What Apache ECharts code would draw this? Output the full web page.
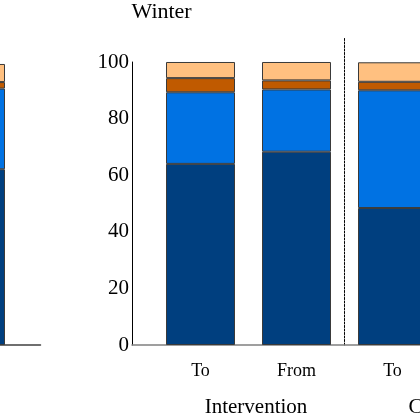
<!DOCTYPE html>
<html>
<head>
<meta charset="utf-8">
<script src="https://cdn.jsdelivr.net/npm/echarts@6/dist/echarts.min.js"></script>
<style>
  html, body { margin: 0; padding: 0; background: #fff; }
  #chart { width: 420px; height: 420px; }
</style>
</head>
<body>
<div id="chart"></div>
<script>
// 数据
const categories = ['To', 'From', 'To', 'From'];
const groups = ['Intervention', 'Control'];
const darkBlue = [64.0, 68.3, 48.4, '-'];
const midBlue = [25.3, 22.0, 41.6, '-'];
const brown = [5.0, 3.2, 3.0, '-'];
const peach = [5.7, 6.5, 6.9, '-'];
// 左边被裁掉的面板（只剩一根柱子）
const leftCategories = ['From'];
const leftDarkBlue = [62.1];
const leftMidBlue = [28.5];
const leftBrown = [2.3];
const leftPeach = [6.4];

const FONT = '"Liberation Serif", "Times New Roman", serif';
const colors = ['#003F7F', '#0072E3', '#C05A00', '#FFC080'];
const mainLayers = [darkBlue, midBlue, brown, peach];
const leftLayers = [leftDarkBlue, leftMidBlue, leftBrown, leftPeach];

const chart = echarts.init(document.getElementById('chart'));

const series = [];
mainLayers.forEach(function (data, i) {
  series.push({
    type: 'bar', stack: 'main', xAxisIndex: 0, yAxisIndex: 0,
    data: data, barWidth: 69, color: colors[i],
    itemStyle: { borderColor: '#3a3a3a', borderWidth: 1 },
    silent: true
  });
});
leftLayers.forEach(function (data, i) {
  series.push({
    type: 'bar', stack: 'left', xAxisIndex: 2, yAxisIndex: 1,
    data: data, barWidth: 69, color: colors[i],
    itemStyle: { borderColor: '#3a3a3a', borderWidth: 1 },
    silent: true
  });
});

const hiddenY = function (grid) {
  return { type: 'value', gridIndex: grid, min: 0, max: 100, show: false };
};
const makeGrid = function (left, top, width) {
  return { left: left, top: top, bottom: 75, width: width, outerBoundsMode: 'none', containLabel: false };
};

const option = {
  animation: false,
  backgroundColor: '#fff',
  title: {
    text: 'Winter', left: 131.5, top: 1, padding: 0,
    textStyle: { fontFamily: FONT, fontSize: 22, fontWeight: 'normal', color: '#000' }
  },
  grid: [
    makeGrid(152.5, 62, 384),   // 主图柱子
    makeGrid(-77.5, 62, 96),    // 左侧面板
    makeGrid(132, 62, 500),     // 主图底线
    makeGrid(-100, 62, 140.5),  // 左侧底线
    makeGrid(344.5, 38, 10)     // 虚线分隔
  ],
  xAxis: [
    {
      type: 'category', gridIndex: 0, data: categories, position: 'bottom',
      axisLine: { show: false }, axisTick: { show: false },
      axisLabel: { fontFamily: FONT, fontSize: 18, color: '#000', margin: 17, interval: 0 }
    },
    {
      type: 'category', gridIndex: 0, position: 'bottom', offset: 0,
      data: [
        { value: groups[0], textStyle: { padding: [0, 0, 0, 15] } },
        groups[1]
      ],
      axisLine: { show: false }, axisTick: { show: false },
      axisLabel: { fontFamily: FONT, fontSize: 21, color: '#000', margin: 52, interval: 0 }
    },
    {
      type: 'category', gridIndex: 1, data: leftCategories,
      axisLine: { show: false }, axisTick: { show: false }, axisLabel: { show: false }
    },
    {
      type: 'category', gridIndex: 2, data: [''],
      axisLine: { lineStyle: { color: '#808080', width: 1.5 } },
      axisTick: { show: false }, axisLabel: { show: false }
    },
    {
      type: 'category', gridIndex: 3, data: [''],
      axisLine: { lineStyle: { color: '#404040', width: 1.5 } },
      axisTick: { show: false }, axisLabel: { show: false }
    },
    { type: 'value', gridIndex: 4, show: false }
  ],
  yAxis: [
    {
      type: 'value', gridIndex: 0, min: 0, max: 100, interval: 20, offset: 20.5,
      axisLine: { show: true, lineStyle: { color: '#000', width: 1 } },
      axisTick: { show: false },
      splitLine: { show: false },
      axisLabel: { fontFamily: FONT, fontSize: 21, color: '#000', margin: 3 }
    },
    hiddenY(1),
    hiddenY(2),
    hiddenY(3),
    {
      type: 'value', gridIndex: 4, min: 0, max: 100,
      axisLine: { show: true, lineStyle: { color: '#000', width: 1, type: [2, 1.5] } },
      axisTick: { show: false }, axisLabel: { show: false }, splitLine: { show: false }
    }
  ],
  series: series
};

chart.setOption(option);
</script>
</body>
</html>
